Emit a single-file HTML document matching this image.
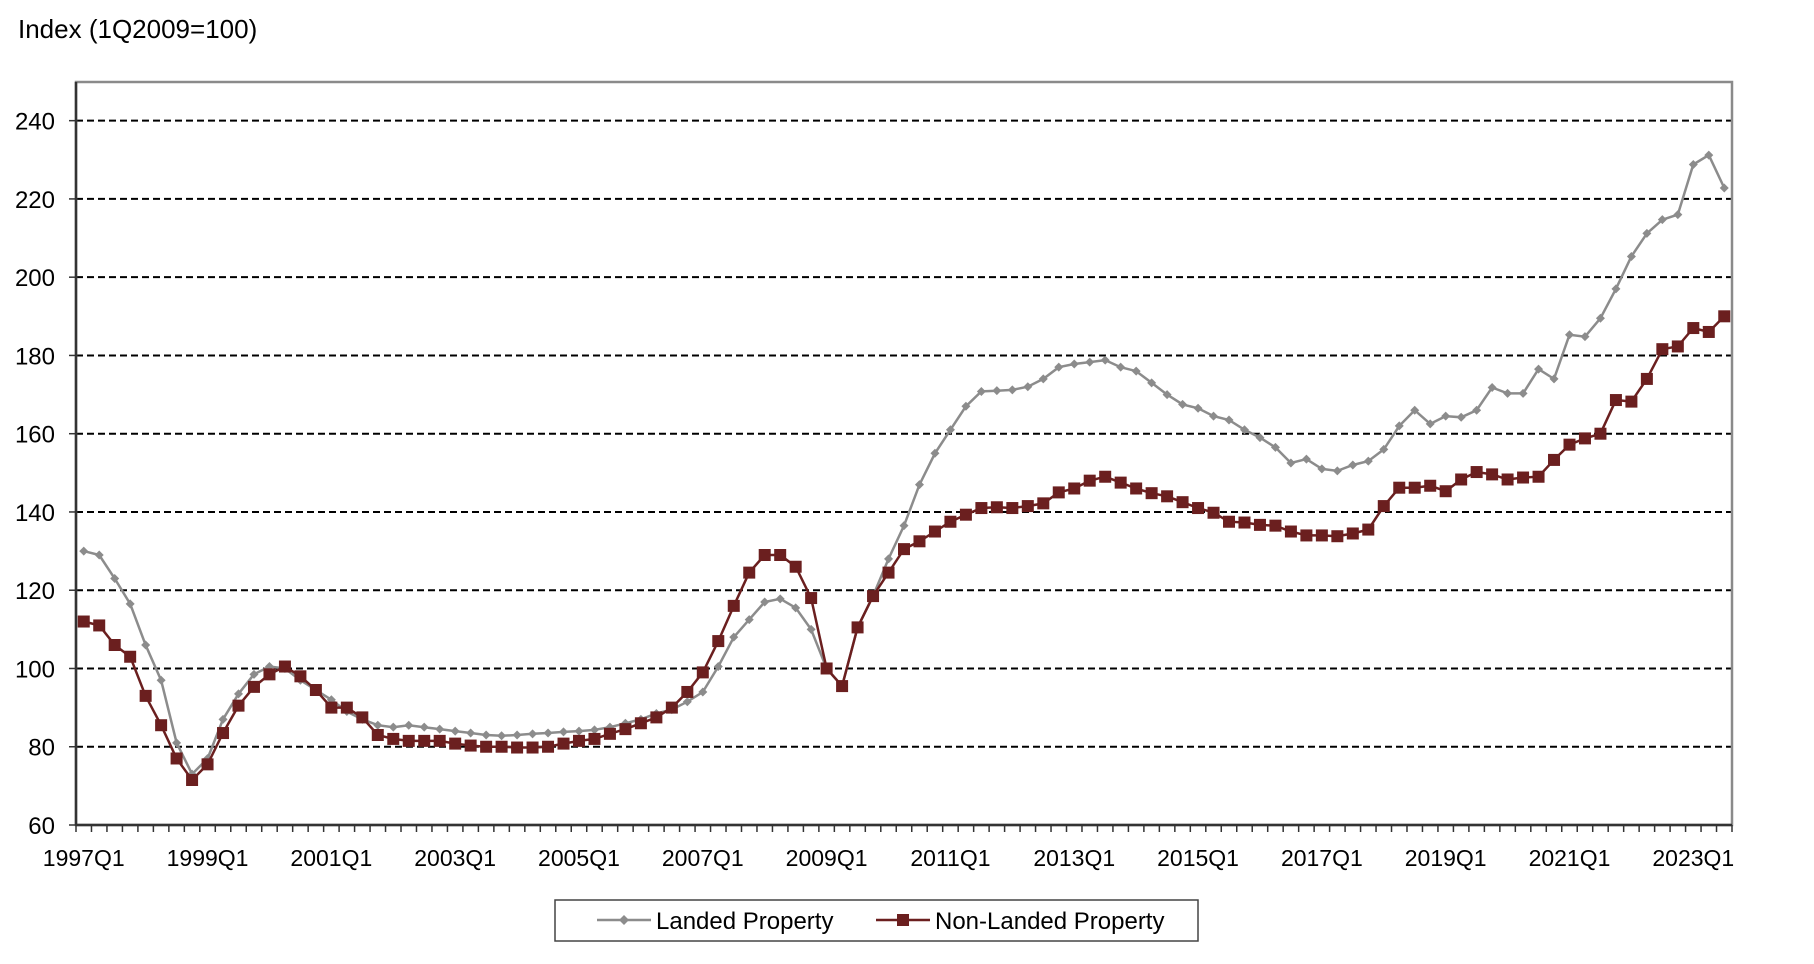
<!DOCTYPE html>
<html><head><meta charset="utf-8"><style>
body{margin:0;background:#fff;}
svg{display:block;font-family:"Liberation Sans",Arial,sans-serif;}
</style></head><body>
<svg id="c" width="1814" height="964" viewBox="0 0 1814 964" xmlns="http://www.w3.org/2000/svg">
<rect width="1814" height="964" fill="#fff"/>
<text x="18" y="38" font-size="26" fill="#000">Index (1Q2009=100)</text>
<g id="grid"></g>
<rect x="76" y="82" width="1656" height="743" fill="none" stroke="#8a8a8a" stroke-width="2.5"/>
<line x1="76" y1="82" x2="76" y2="825" stroke="#333" stroke-width="2.5"/>
<line x1="76" y1="825" x2="1732" y2="825" stroke="#333" stroke-width="2.5"/>
<g id="ticks"></g>
<g id="series"></g>
<rect x="555" y="900" width="643" height="41" fill="#fff" stroke="#444" stroke-width="1.5"/>
<line x1="597" y1="920" x2="651" y2="920" stroke="#8c8c8c" stroke-width="2.5"/>
<path d="M624 915 L629 920 L624 925 L619 920Z" fill="#8c8c8c"/>
<text x="656" y="929" font-size="24">Landed Property</text>
<line x1="876" y1="920" x2="930" y2="920" stroke="#6b1f1f" stroke-width="2.5"/>
<rect x="897" y="914" width="12" height="12" fill="#6b1f1f"/>
<text x="935" y="929" font-size="24">Non-Landed Property</text>
</svg>
<script>
var L=[130,129,123,116.5,106,97,81,73,77,87,93.5,98.5,100.5,100,97,94.5,92,89,87,85.5,85,85.5,85,84.5,84,83.5,83,82.8,83,83.3,83.5,83.8,84,84.3,85,86,87,88.5,89.5,91.5,94,100.5,108,112.5,117,117.8,115.5,110,100,95.5,110.5,118.5,128,136.5,147,155,161,167,170.8,171,171.2,172,174,177,177.8,178.3,178.8,177,176,173,170,167.5,166.5,164.5,163.5,161,159,156.5,152.5,153.5,151,150.5,152,153,156,162,166,162.5,164.5,164.2,166,171.8,170.3,170.3,176.5,174,185.3,184.8,189.5,197,205.3,211.2,214.7,216,228.8,231.2,222.8];
var N=[112,111,106,103,93,85.5,77,71.5,75.5,83.5,90.5,95.3,98.5,100.5,98,94.5,90,90,87.5,83,82,81.5,81.5,81.5,80.8,80.3,80,80,79.8,79.8,80,80.8,81.5,82,83.3,84.5,86,87.5,90,94,99,107,116,124.5,129,129,126,118,100,95.5,110.5,118.5,124.5,130.5,132.5,135,137.5,139.3,141,141.2,141,141.5,142.2,145,146,148,149,147.5,146,144.8,144,142.5,141,139.8,137.5,137.3,136.7,136.5,135,134,134,133.8,134.5,135.5,141.5,146.2,146.2,146.7,145.3,148.3,150.2,149.6,148.3,148.8,149,153.3,157.2,158.8,160,168.6,168.2,174,181.6,182.3,187,186,190];
var NS="http://www.w3.org/2000/svg";
function el(p,t,a,txt){var e=document.createElementNS(NS,t);for(var k in a)e.setAttribute(k,a[k]);if(txt)e.textContent=txt;p.appendChild(e);return e;}
var W=1656/107;
function X(i){return 76+(i+0.5)*W;}
function Y(v){return 825-(v-60)*3.913;}
var g=document.getElementById('grid'),t=document.getElementById('ticks'),s=document.getElementById('series');
for(var v=60;v<=240;v+=20){var y=Y(v);
 if(v>60)el(g,'line',{x1:76,y1:y,x2:1732,y2:y,stroke:'#000','stroke-width':2,'stroke-dasharray':'7,4'});
 el(t,'line',{x1:69,y1:y,x2:76,y2:y,stroke:'#333','stroke-width':1.5});
 el(t,'text',{x:55,y:y+9,'font-size':24,'text-anchor':'end'},String(v));}
for(var i=0;i<=107;i++){var x=76+i*W;el(t,'line',{x1:x,y1:825,x2:x,y2:832,stroke:'#333','stroke-width':1.5});}
for(var i=0;i<107;i+=8){el(t,'text',{x:X(i),y:866,'font-size':23,'text-anchor':'middle'},(1997+i/4)+'Q1');}
var pl='',pn='';
for(var i=0;i<107;i++){pl+=(i?'L':'M')+X(i).toFixed(1)+' '+Y(L[i]).toFixed(1);pn+=(i?'L':'M')+X(i).toFixed(1)+' '+Y(N[i]).toFixed(1);}
el(s,'path',{d:pl,fill:'none',stroke:'#8c8c8c','stroke-width':2.5});
for(var i=0;i<107;i++){var x=X(i),y=Y(L[i]);el(s,'path',{d:'M'+x+' '+(y-4.5)+'L'+(x+4.5)+' '+y+'L'+x+' '+(y+4.5)+'L'+(x-4.5)+' '+y+'Z',fill:'#8c8c8c'});}
el(s,'path',{d:pn,fill:'none',stroke:'#6b1f1f','stroke-width':2.5});
for(var i=0;i<107;i++){el(s,'rect',{x:X(i)-6,y:Y(N[i])-6,width:12,height:12,fill:'#6b1f1f'});}
</script>
</body></html>
